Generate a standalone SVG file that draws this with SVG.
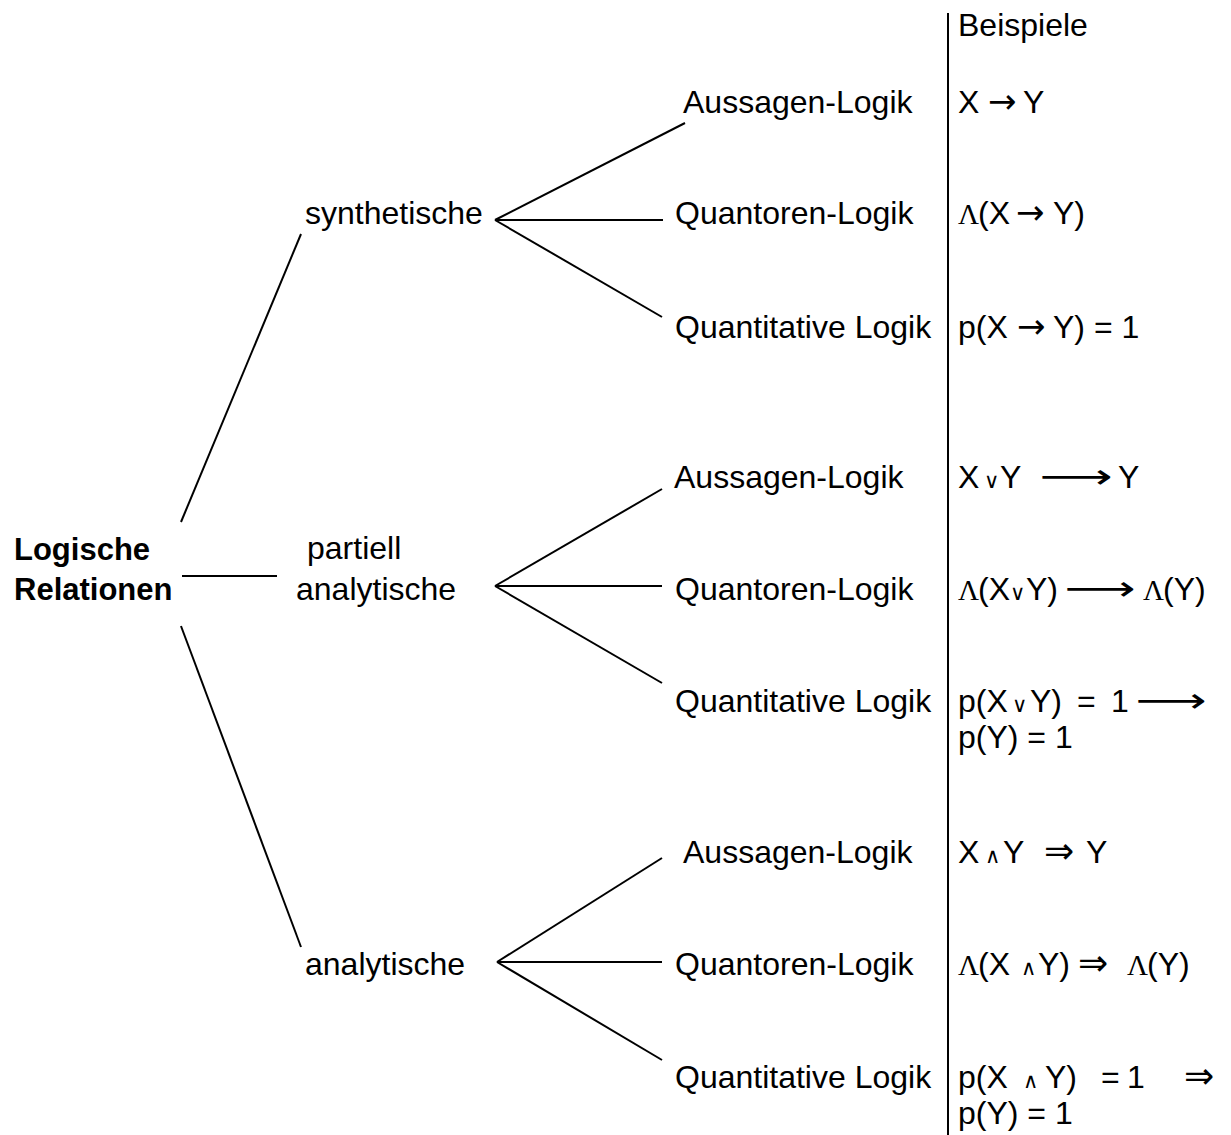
<svg xmlns="http://www.w3.org/2000/svg" width="1231" height="1135" viewBox="0 0 1231 1135">
<style>
text{font-family:"Liberation Sans",Arial,sans-serif;font-size:32px;fill:#000}
.b{font-weight:bold;font-size:31px}
.arr{font-family:"DejaVu Sans",sans-serif;font-size:34px}
.sym{font-family:"DejaVu Sans",sans-serif;font-size:34px}
.dbl{font-family:"DejaVu Sans",sans-serif;font-size:36px}
.op{font-family:"DejaVu Sans",sans-serif;font-size:21px}
.lam{font-family:"Liberation Serif",serif;font-size:29px}
line{stroke:#000;stroke-width:2;fill:none}
</style>
<rect width="1231" height="1135" fill="#fff"/>
<g id="connectors">
<line x1="181" y1="522" x2="301" y2="234"/>
<line x1="182" y1="576" x2="277" y2="576"/>
<line x1="181" y1="626" x2="301" y2="947"/>
<line x1="495" y1="220" x2="685" y2="123"/>
<line x1="495" y1="220" x2="663" y2="220"/>
<line x1="495" y1="220" x2="662" y2="317"/>
<line x1="495" y1="586" x2="662" y2="489"/>
<line x1="495" y1="586" x2="662" y2="586"/>
<line x1="495" y1="586" x2="662" y2="683"/>
<line x1="497" y1="962" x2="662" y2="858"/>
<line x1="497" y1="962" x2="662" y2="962"/>
<line x1="497" y1="962" x2="662" y2="1060"/>
<line x1="948" y1="13" x2="948" y2="1135"/>
</g>
<g id="root"><text class="b" x="14" y="560">Logische</text><text class="b" x="14" y="600">Relationen</text></g>
<g id="synthetische"><text x="305" y="224">synthetische</text></g>
<g id="partiell"><text x="307" y="559">partiell</text><text x="296" y="600">analytische</text></g>
<g id="analytische"><text x="305" y="975">analytische</text></g>
<g id="s-aussagen"><text x="683" y="113">Aussagen-Logik</text></g>
<g id="s-quantoren"><text x="675" y="224">Quantoren-Logik</text></g>
<g id="s-quantitative"><text x="675" y="338">Quantitative Logik</text></g>
<g id="p-aussagen"><text x="674" y="488">Aussagen-Logik</text></g>
<g id="p-quantoren"><text x="675" y="600">Quantoren-Logik</text></g>
<g id="p-quantitative"><text x="675" y="712">Quantitative Logik</text></g>
<g id="a-aussagen"><text x="683" y="863">Aussagen-Logik</text></g>
<g id="a-quantoren"><text x="675" y="975">Quantoren-Logik</text></g>
<g id="a-quantitative"><text x="675" y="1088">Quantitative Logik</text></g>
<g id="examples">
<text x="958" y="36">Beispiele</text>
<text x="958" y="113">X<tspan class="arr" x="988">→</tspan><tspan x="1023">Y</tspan></text>
<text x="958" y="224"><tspan class="lam">Λ</tspan><tspan x="978">(X</tspan><tspan class="arr" x="1016">→</tspan><tspan x="1053">Y)</tspan></text>
<text x="958" y="338">p(X<tspan class="arr" x="1017">→</tspan><tspan x="1053">Y) = 1</tspan></text>
<text x="958" y="488">X<tspan class="op" x="984">∨</tspan><tspan x="1000">Y</tspan><tspan x="1118">Y</tspan></text>
<text class="sym" transform="translate(1039.5,488) scale(1.5,1)">⟶</text>
<text x="958" y="600"><tspan class="lam">Λ</tspan><tspan x="978">(X</tspan><tspan class="op" x="1010">∨</tspan><tspan x="1026">Y)</tspan><tspan class="lam" x="1143">Λ</tspan><tspan x="1163">(Y)</tspan></text>
<text class="sym" transform="translate(1064.5,600) scale(1.46,1)">⟶</text>
<text x="958" y="712">p(X<tspan class="op" x="1012">∨</tspan><tspan x="1030">Y)</tspan><tspan x="1077">=</tspan><tspan x="1111">1</tspan></text>
<text class="sym" transform="translate(1135.5,712) scale(1.46,1)">⟶</text>
<text x="958" y="748">p(Y) = 1</text>
<text x="958" y="863">X<tspan class="op" x="985">∧</tspan><tspan x="1003">Y</tspan><tspan class="dbl" x="1044">⇒</tspan><tspan x="1086">Y</tspan></text>
<text x="958" y="975"><tspan class="lam">Λ</tspan><tspan x="978">(X</tspan><tspan class="op" x="1021">∧</tspan><tspan x="1038">Y)</tspan><tspan class="dbl" x="1078">⇒</tspan><tspan class="lam" x="1127">Λ</tspan><tspan x="1147">(Y)</tspan></text>
<text x="958" y="1088">p(X<tspan class="op" x="1023">∧</tspan><tspan x="1045">Y)</tspan><tspan x="1101">=</tspan><tspan x="1127">1</tspan><tspan class="dbl" x="1184">⇒</tspan></text>
<text x="958" y="1124">p(Y) = 1</text>
</g>
</svg>
